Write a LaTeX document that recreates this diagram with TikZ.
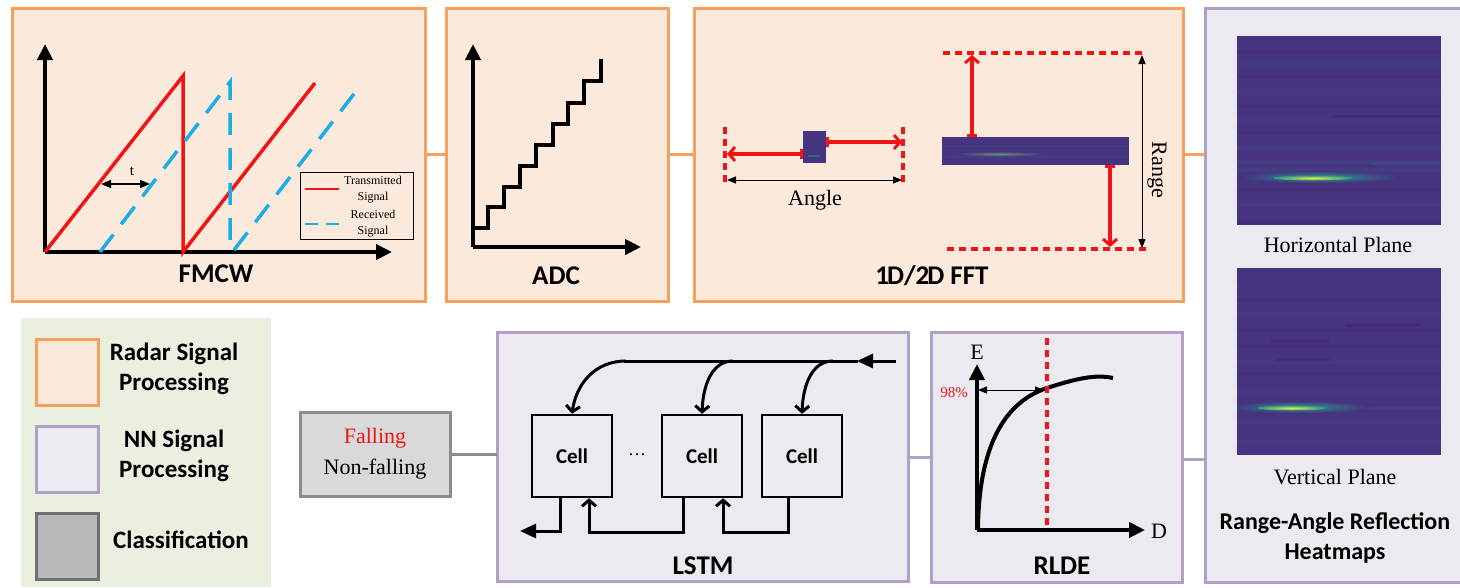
\documentclass[tikz,border=0pt]{standalone}
\usepackage{fontspec}
\setmainfont{Liberation Serif}
\setsansfont{Carlito}
\usetikzlibrary{arrows.meta}
\definecolor{rsfill}{RGB}{251,233,220}
\definecolor{rsdraw}{RGB}{245,160,92}
\definecolor{nnfill}{RGB}{236,233,241}
\definecolor{nndraw}{RGB}{176,160,200}
\definecolor{clfill}{RGB}{217,217,217}
\definecolor{cldraw}{RGB}{140,140,140}
\definecolor{lgfill}{RGB}{233,240,224}
\definecolor{sigblue}{RGB}{25,175,230}
\definecolor{hmbase}{RGB}{70,52,128}
\definecolor{hmdark}{RGB}{66,30,105}
\definecolor{hmlight}{RGB}{62,82,140}
\definecolor{hmteal}{RGB}{40,150,140}
\definecolor{hmyellow}{RGB}{230,235,60}
\definecolor{sigred}{RGB}{240,20,20}
\tikzset{
  panel/.style={anchor=north west, inner sep=0pt, outer sep=0pt, line width=3pt},
  rspanel/.style={panel, fill=rsfill, draw=rsdraw},
  nnpanel/.style={panel, fill=nnfill, draw=nndraw},
  rsline/.style={draw=rsdraw, line width=3pt},
  nnline/.style={draw=nndraw, line width=3pt},
  clline/.style={draw=cldraw, line width=3pt},
  axis/.style={line width=4pt, -{Triangle[length=16pt,width=15pt]}},
  title/.style={font=\sffamily\bfseries\fontsize{27}{29}\selectfont, inner sep=0pt},
  serif/.style={font=\fontsize{22}{24}\selectfont, inner sep=0pt},
  small/.style={font=\fontsize{12}{13}\selectfont, inner sep=0pt},
  redarrow/.style={draw=sigred, line width=3.5pt, {Bar[width=10pt,line width=3pt]}-{Straight Barb[length=6pt,width=14pt,line width=3pt]}},
  reddash/.style={draw=sigred, line width=3.5pt, dash pattern=on 7pt off 5pt},
  dimarrow/.style={draw=black, line width=1pt, {Triangle[length=9pt,width=7pt]}-{Triangle[length=9pt,width=7pt]}},
  cellbox/.style={draw=black, line width=2.5pt, minimum width=80pt, minimum height=82pt, inner sep=0pt, font=\sffamily\bfseries\fontsize{21}{23}\selectfont},
  lstmline/.style={line width=3pt},
  barb/.style={-{Straight Barb[length=6pt,width=14pt,line width=3pt]}},
  legsq/.style={anchor=north west, minimum width=62pt, minimum height=66pt, inner sep=0pt, line width=3pt},
  legtext/.style={font=\sffamily\bfseries\fontsize{25}{30}\selectfont, align=center, inner sep=0pt},
}
\begin{document}
\begin{tikzpicture}[x=1pt,y=-1pt]
\useasboundingbox (0,0) rectangle (1460,587);

% ---------- panels ----------
\node[rspanel, minimum width=413pt, minimum height=293pt] (fmcw) at (12,8) {};
\node[rspanel, minimum width=222pt, minimum height=293pt] (adc) at (446,8) {};
\node[rspanel, minimum width=489pt, minimum height=293pt] (fft) at (694,8) {};
\node[nnpanel, minimum width=260pt, minimum height=574pt] (heat) at (1205,8) {};
\node[nnpanel, minimum width=411pt, minimum height=249pt] (lstm) at (497,332) {};
\node[nnpanel, minimum width=251pt, minimum height=250pt] (rlde) at (931,332) {};
\node[panel, fill=clfill, draw=cldraw, minimum width=150pt, minimum height=84pt, align=center, font=\fontsize{22}{31}\selectfont] (cls) at (300,412) {\textcolor{sigred}{Falling}\\Non-falling};

% ---------- connectors ----------
\draw[rsline] (fmcw.east) -- (adc.west);
\draw[rsline] (adc.east) -- (fft.west);
\draw[rsline] (fft.east) -- (fft.east -| heat.west);
\draw[clline] (cls.east) -- (cls.east -| lstm.west);
\draw[nnline] ([yshift=-1pt]lstm.east) -- ([yshift=-1pt]lstm.east -| rlde.west);
\draw[nnline] ([yshift=-2pt]rlde.east) -- ([yshift=-2pt]rlde.east -| heat.west);

% ---------- legend ----------
\node[anchor=north west, fill=lgfill, minimum width=250pt, minimum height=269pt, inner sep=0pt] (legend) at (21,318) {};
\node[legsq, fill=rsfill, draw=rsdraw] (lg1) at (35,338) {};
\node[legsq, fill=nnfill, draw=nndraw] (lg2) at (35,425) {};
\node[legsq, fill=clfill!85!black, draw=cldraw!80!black] (lg3) at (35,512) {};
\node[legtext] (lt1) at (174,369) {Radar Signal\\Processing};
\node[legtext] (lt2) at (174,456) {NN Signal\\Processing};
\node[legtext] (lt3) at (181,540) {Classification};

% ---------- FMCW ----------
\coordinate (fo) at (45,252);
\draw[axis] (fo) -- (45,44);
\draw[axis] (fo) -- (392,252);
\draw[sigred, line width=3.5pt, line join=miter] (fo) -- (183,76) -- (183,252) -- (315,83);
\draw[sigblue, line width=3.5pt, dash pattern=on 22pt off 13pt] (100,252) -- (230,82) -- (230,252);
\draw[sigblue, line width=3.5pt, dash pattern=on 22pt off 13pt] (234,250) -- (357,90);
\draw[line width=1.5pt, {Triangle[length=10pt,width=8pt]}-{Triangle[length=10pt,width=8pt]}] (101,184) -- (150,184);
\node[font=\fontsize{15}{16}\selectfont, inner sep=0pt] (tlab) at (132,171) {t};
\node[anchor=north west, draw=black, line width=1.3pt, fill=rsfill, minimum width=113pt, minimum height=67pt, inner sep=0pt] (fleg) at (300,172) {};
\draw[sigred, line width=2pt] (305,189) -- (339,189);
\draw[sigblue, line width=2pt, dash pattern=on 13pt off 8pt] (305,224) -- (340,224);
\node[small] (ft1) at (373,180) {Transmitted};
\node[small] (ft2) at (373,198) {Signal};
\node[small] (ft3) at (373,214) {Received};
\node[small] (ft4) at (373,232) {Signal};
\node[title] (tfmcw) at (216,274) {FMCW};

% ---------- ADC ----------
\coordinate (ao) at (473,247);
\draw[axis] (ao) -- (473,44);
\draw[axis] (ao) -- (641,247);
\draw[line width=3.5pt, line join=miter] (473,228) -- (488,228) -- (488,207) -- (504,207) -- (504,187) -- (520,187) -- (520,166) -- (536,166) -- (536,145) -- (553,145) -- (553,124) -- (568,124) -- (568,103) -- (584,103) -- (584,81) -- (601,81) -- (601,59);
\node[title] (tadc) at (556,276) {ADC};

% ---------- FFT ----------
\fill[hmbase] (803,131) rectangle (826,163);
\fill[hmteal, opacity=0.5] (808,155) rectangle (820,157);
\fill[hmbase] (942,137) rectangle (1129,165);
\fill[hmlight, opacity=0.3] (942,145) rectangle (1129,147);
\fill[hmlight, opacity=0.3] (942,156) rectangle (1129,158);
\shade[inner color=hmteal!60!hmyellow!70!hmbase, outer color=hmbase] (1000,154) ellipse [x radius=45, y radius=2.5];
\draw[reddash] (725,127) -- (725,186);
\draw[reddash] (903,127) -- (903,186);
\draw[reddash] (943,53) -- (1146,53);
\draw[reddash] (947,249) -- (1148,249);
\draw[redarrow] (803,154) -- (727,154);
\draw[redarrow] (826,142) -- (902,142);
\draw[redarrow] (972,137) -- (972,55);
\draw[redarrow] (1110,165) -- (1110,247);
\draw[dimarrow] (727,180) -- (902,180);
\draw[dimarrow] (1142,55) -- (1142,248);
\node[serif] (angle) at (815,200) {Angle};
\node[serif, rotate=-90] (range) at (1157,170) {Range};
\node[title] (tfft) at (932,276) {1\kern-2pt D/2\kern-2pt D FFT};

% ---------- heatmaps ----------
\begin{scope}
\clip (1237,36) rectangle (1441,225);
\fill[hmbase] (1237,36) rectangle (1441,225);
\foreach \y/\c/\o in {50/hmdark/0.3, 62/hmlight/0.2, 75/hmdark/0.2, 90/hmlight/0.2, 104/hmdark/0.25, 118/hmlight/0.25, 131/hmdark/0.2, 146/hmlight/0.3, 160/hmlight/0.35, 168/hmlight/0.3, 188/hmdark/0.3, 203/hmlight/0.2, 220/hmdark/0.4}
  \fill[\c, opacity=\o] (1237,\y) rectangle (1441,\y+4);
\fill[hmdark, opacity=0.35] (1330,115) rectangle (1441,118);
\fill[hmlight, opacity=0.5] (1370,163) rectangle (1441,165);
\shade[inner color=hmteal, outer color=hmbase] (1320,177) ellipse [x radius=80, y radius=6];
\shade[inner color=hmyellow, outer color=hmteal] (1313,178) ellipse [x radius=40, y radius=2.5];
\end{scope}
\node[serif] (hplane) at (1338,245) {Horizontal Plane};
\begin{scope}
\clip (1237,268) rectangle (1441,455);
\fill[hmbase] (1237,268) rectangle (1441,455);
\foreach \y/\c/\o in {285/hmlight/0.2, 298/hmdark/0.25, 312/hmlight/0.2, 328/hmdark/0.3, 344/hmdark/0.25, 360/hmlight/0.2, 372/hmdark/0.2, 390/hmlight/0.25, 420/hmlight/0.2, 440/hmlight/0.2}
  \fill[\c, opacity=\o] (1237,\y) rectangle (1441,\y+4);
\fill[hmdark, opacity=0.5] (1345,324) rectangle (1420,327);
\fill[hmdark, opacity=0.35] (1270,340) rectangle (1330,343);
\fill[hmdark, opacity=0.35] (1275,358) rectangle (1330,361);
\fill[hmlight, opacity=0.4] (1237,407) rectangle (1441,409);
\shade[inner color=hmteal, outer color=hmbase] (1300,407) ellipse [x radius=70, y radius=6];
\shade[inner color=hmyellow, outer color=hmteal] (1292,408) ellipse [x radius=35, y radius=2.5];
\end{scope}
\node[serif] (vplane) at (1335,477) {Vertical Plane};
\node[title, align=center, font=\sffamily\bfseries\fontsize{24}{30}\selectfont] (theat) at (1335,538) {Range-Angle Reflection\\Heatmaps};

% ---------- LSTM ----------
\node[cellbox] (c1) at (572,456) {Cell};
\node[cellbox] (c2) at (702,456) {Cell};
\node[cellbox] (c3) at (802,456) {Cell};
\node[font=\fontsize{18}{20}\selectfont, inner sep=0pt] (dots) at (637,455) {\dots};
\coordinate (lin) at (896,361);
\draw[lstmline, -{Triangle[length=16pt,width=14pt]}] (lin) -- (857,361);
\draw[lstmline] (858,361) -- (624,361);
\draw[lstmline, barb] (626,361) .. controls (594,361) and (576,385) .. (c1.north);
\draw[lstmline, barb] (733,361) .. controls (712,361) and (703,385) .. (c2.north);
\draw[lstmline, barb] (833,361) .. controls (812,361) and (803,385) .. (c3.north);
\coordinate (lout) at (520,531);
\draw[lstmline, -{Triangle[length=16pt,width=14pt]}] ([xshift=-12pt]c1.south) |- (lout);
\draw[lstmline, barb] ([xshift=-19pt]c2.south) -- ++(0,34) -| ([xshift=17pt]c1.south);
\draw[lstmline, barb] ([xshift=-14pt]c3.south) -- ++(0,34) -| ([xshift=21pt]c2.south);
\node[title] (tlstm) at (703,566) {LSTM};

% ---------- RLDE ----------
\coordinate (ro) at (977,530);
\draw[axis] (ro) -- (977,364);
\draw[axis] (ro) -- (1145,530);
\draw[line width=4pt] (978,528) .. controls (979,445) and (1005,402) .. (1047,388) .. controls (1075,379) and (1095,374) .. (1113,378);
\draw[reddash] (1047,338) -- (1047,530);
\draw[dimarrow] (978,390) -- (1044,390);
\node[font=\fontsize{22}{24}\selectfont, inner sep=0pt] (elab) at (977,352) {E};
\node[font=\fontsize{22}{24}\selectfont, inner sep=0pt] (dlab) at (1159,531) {D};
\node[font=\fontsize{15}{16}\selectfont, inner sep=0pt, text=sigred] (pct) at (954,393) {98\%};
\node[title] (trlde) at (1062,566) {RLDE};
\end{tikzpicture}
\end{document}
